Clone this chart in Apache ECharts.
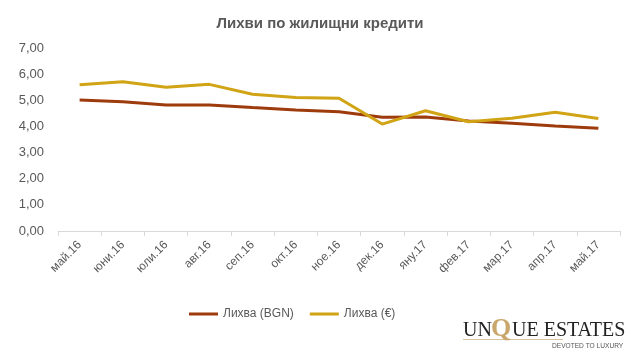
<!DOCTYPE html>
<html><head><meta charset="utf-8">
<script src="https://cdn.jsdelivr.net/npm/echarts@6/dist/echarts.min.js"></script>
<style>html,body{margin:0;padding:0;background:#fff}#c{width:640px;height:359px}</style>
</head><body><div id="c"></div>
<script>
const categories = ['май.16','юни.16','юли.16','авг.16','сеп.16','окт.16','ное.16','дек.16','яну.17','фев.17','мар.17','апр.17','май.17'];
const bgnValues = [5.01,4.94,4.82,4.82,4.72,4.63,4.56,4.35,4.36,4.21,4.12,4.02,3.93];
const eurValues = [5.59,5.71,5.50,5.61,5.23,5.11,5.08,4.09,4.60,4.18,4.31,4.54,4.30];
const seriesNames = ['Лихва (BGN)','Лихва (€)'];
const titleText = 'Лихви по жилищни кредити';

const chart = echarts.init(document.getElementById('c'));
const font = 'Liberation Sans, Arial, sans-serif';
chart.setOption({
  animation:false,
  backgroundColor:'#fff',
  title:{text:titleText,left:'center',top:11,textStyle:{fontFamily:font,fontSize:15,fontWeight:'bold',color:'#595959'}},
  grid:{left:58,right:20,top:48,bottom:128},
  legend:{top:303,left:184,itemWidth:29,itemHeight:3,itemGap:16,icon:'rect',
    textStyle:{fontFamily:font,fontSize:12,color:'#595959'},data:seriesNames},
  xAxis:{type:'category',data:categories,boundaryGap:true,
    axisLine:{lineStyle:{color:'#d9d9d9'}},axisTick:{show:true,lineStyle:{color:'#d9d9d9'},length:5},
    axisLabel:{rotate:45,color:'#595959',fontFamily:font,fontSize:12,margin:12}},
  yAxis:{type:'value',min:0,max:7,interval:1,
    axisLine:{show:false},axisTick:{show:false},splitLine:{show:false},
    axisLabel:{color:'#595959',fontFamily:font,fontSize:13,margin:14,formatter:v=>v.toFixed(2).replace('.',',')}},
  series:[
    {name:seriesNames[0],type:'line',data:bgnValues,symbol:'none',lineStyle:{width:3,color:'#9E3B0C'},itemStyle:{color:'#9E3B0C'}},
    {name:seriesNames[1],type:'line',data:eurValues,symbol:'none',lineStyle:{width:3,color:'#D0A415'},itemStyle:{color:'#D0A415'}}
  ],
  graphic:[
    {type:'rect',left:463,top:339,shape:{width:100,height:1},style:{fill:'#D9C29A'}},
    {type:'text',left:463,top:321,style:{text:'UN',font:'20px "Liberation Serif", serif',fill:'#222'}},
    {type:'text',left:491,top:316,style:{text:'Q',font:'bold 26px "Liberation Serif", serif',fill:'#C9A66B'}},
    {type:'text',left:512,top:321,style:{text:'UE ESTATES',font:'20px "Liberation Serif", serif',fill:'#222'}},
    {type:'text',left:552,top:343,style:{text:'DEVOTED TO LUXURY',font:'6.6px "Liberation Sans", sans-serif',fill:'#555'}}
  ]
});
</script></body></html>
